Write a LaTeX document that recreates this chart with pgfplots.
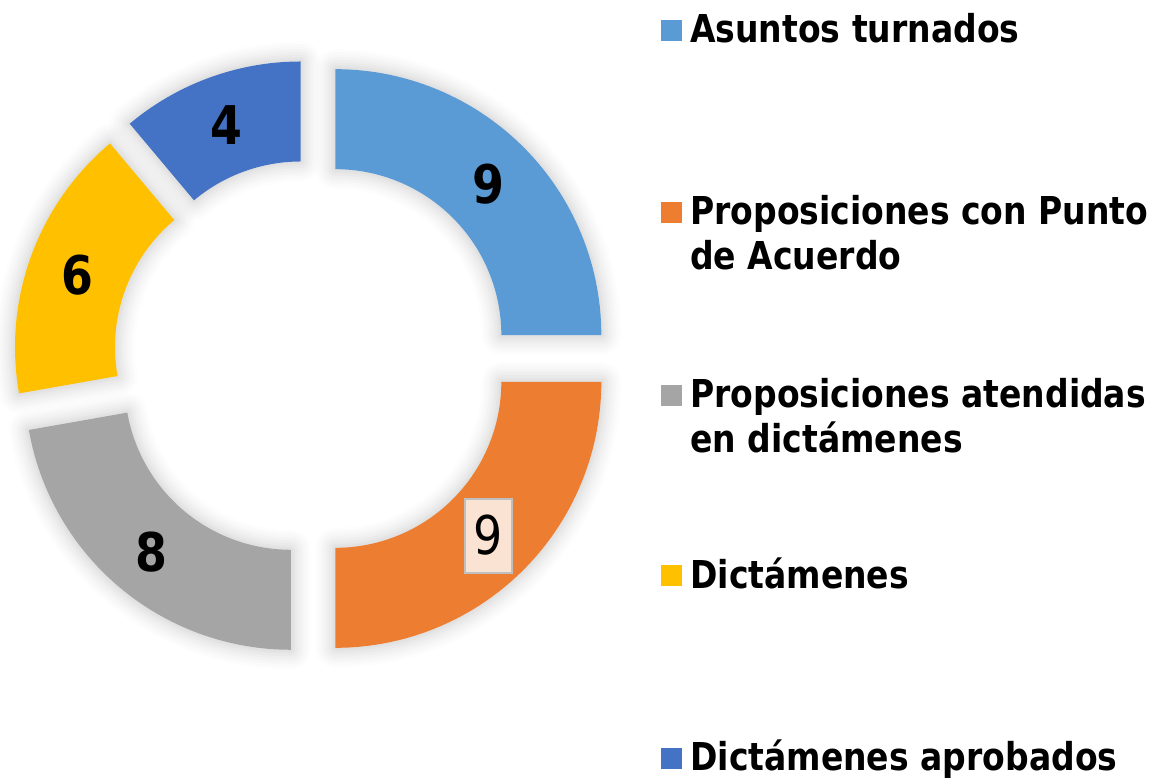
\documentclass[border=0pt]{standalone}
\usepackage{pgfplots}
\pgfplotsset{compat=1.18}
\usepackage{fontspec}
\newfontfamily\tah[FakeStretch=0.86]{DejaVu Sans}
\definecolor{segA}{HTML}{5B9BD5}
\definecolor{segB}{HTML}{ED7D31}
\definecolor{segC}{HTML}{A5A5A5}
\definecolor{segD}{HTML}{FFC000}
\definecolor{segE}{HTML}{4472C4}
\definecolor{lblfill}{HTML}{FBE3D3}
\definecolor{lblbord}{HTML}{BFBFBF}
% data: values 9, 9, 8, 6, 4 (total 36)
\newcommand\seg[4]{% #1 style, #2 cumulative start, #3 value, #4 total
  \pgfmathsetmacro\ta{360*#2/#4}%
  \pgfmathsetmacro\tb{360*(#2+#3)/#4}%
  \pgfmathsetmacro\tm{(\ta+\tb)/2}%
  \pgfmathsetmacro\cx{312+33*sin(\tm)}%
  \pgfmathsetmacro\cy{-358.5+33*cos(\tm)}%
  \edef\temp{\noexpand\addplot[#1, domain=0:1, samples=122, variable=\noexpand\t]
    ({\cx+(\noexpand\t<0.5?266:166)*sin(\noexpand\t<0.5?\ta+(\tb-\ta)*\noexpand\t*121/60:\tb-(\tb-\ta)*(\noexpand\t*121-61)/60)},
     {\cy+(\noexpand\t<0.5?266:166)*cos(\noexpand\t<0.5?\ta+(\tb-\ta)*\noexpand\t*121/60:\tb-(\tb-\ta)*(\noexpand\t*121-61)/60)}) -- cycle;}%
  \temp
}
\newcommand\allseg[1]{%
  \seg{#1}{0}{9}{36}\seg{#1}{9}{9}{36}\seg{#1}{18}{8}{36}\seg{#1}{26}{6}{36}\seg{#1}{32}{4}{36}}
\begin{document}
\begin{tikzpicture}
\begin{axis}[scale only axis, width=867pt, height=584.25pt,
  xmin=0, xmax=1156, ymin=-779, ymax=0, hide axis, clip=false]
% soft shadow
\allseg{draw=black, fill=none, draw opacity=0.008, line width=30pt, line join=round}
\allseg{draw=black, fill=none, draw opacity=0.01, line width=26pt, line join=round}
\allseg{draw=black, fill=none, draw opacity=0.012, line width=22pt, line join=round}
\allseg{draw=black, fill=none, draw opacity=0.014, line width=18pt, line join=round}
\allseg{draw=black, fill=none, draw opacity=0.016, line width=14pt, line join=round}
\allseg{draw=black, fill=none, draw opacity=0.018, line width=10pt, line join=round}
\allseg{draw=black, fill=none, draw opacity=0.02, line width=6pt, line join=round}
\allseg{draw=black, fill=none, draw opacity=0.02, line width=3pt, line join=round}
% segments
\seg{fill=segA, draw=none}{0}{9}{36}
\seg{fill=segB, draw=none}{9}{9}{36}
\seg{fill=segC, draw=none}{18}{8}{36}
\seg{fill=segD, draw=none}{26}{6}{36}
\seg{fill=segE, draw=none}{32}{4}{36}
% data labels
\node[font=\tah\bfseries\fontsize{40}{40}\selectfont, inner sep=0pt] at (axis cs:488,-184.5) {9};
\node[font=\tah\fontsize{40}{40}\selectfont, inner sep=0pt, minimum width=35pt, minimum height=55.5pt, fill=lblfill, draw=lblbord, line width=1.5pt] at (axis cs:488.5,-535.5) {9};
\node[font=\tah\bfseries\fontsize{40}{40}\selectfont, inner sep=0pt] at (axis cs:151,-552.5) {8};
\node[font=\tah\bfseries\fontsize{40}{40}\selectfont, inner sep=0pt] at (axis cs:77.5,-275.5) {6};
\node[font=\tah\bfseries\fontsize{40}{40}\selectfont, inner sep=0pt] at (axis cs:226,-125.5) {4};
% legend
\fill[segA] (axis cs:661,-20) rectangle (axis cs:682,-41);
\fill[segB] (axis cs:661,-202) rectangle (axis cs:682,-223);
\fill[segC] (axis cs:661,-385) rectangle (axis cs:682,-406);
\fill[segD] (axis cs:661,-565) rectangle (axis cs:682,-586);
\fill[segE] (axis cs:661,-748) rectangle (axis cs:682,-769);
\tikzset{leg/.style={anchor=base west, inner sep=0pt, font=\tah\bfseries\fontsize{28.8}{34}\selectfont}}
\node[leg] at (axis cs:690,-43) {Asuntos turnados};
\node[leg] at (axis cs:690,-225) {Proposiciones con Punto};
\node[leg] at (axis cs:690,-270) {de Acuerdo};
\node[leg] at (axis cs:690,-408) {Proposiciones atendidas};
\node[leg] at (axis cs:690,-453) {en dictámenes};
\node[leg] at (axis cs:690,-588) {Dictámenes};
\node[leg] at (axis cs:690,-770) {Dictámenes aprobados};
\end{axis}
\pgfresetboundingbox
\useasboundingbox (0,0) rectangle (867pt,584.25pt);
\end{tikzpicture}
\end{document}
